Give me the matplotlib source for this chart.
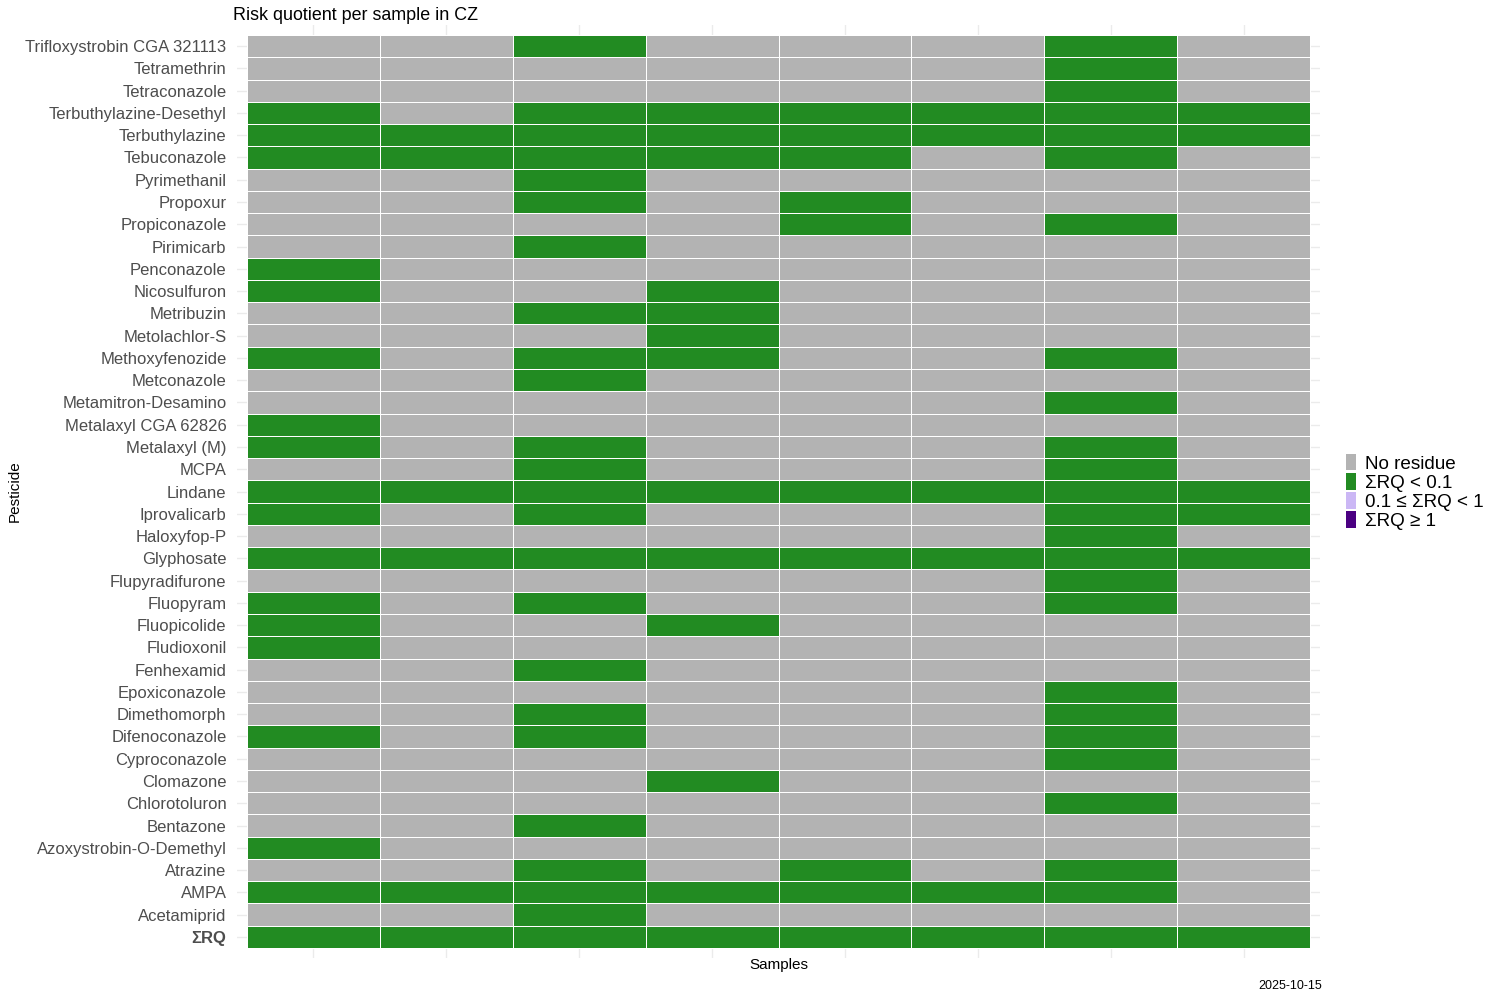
import numpy as np
import matplotlib
matplotlib.use("Agg")
import matplotlib.pyplot as plt
from matplotlib.colors import ListedColormap, BoundaryNorm
from matplotlib.patches import Patch

plt.rcParams['font.family'] = ['Liberation Sans', 'DejaVu Sans']

# rows listed top to bottom
pesticides = [
    "Trifloxystrobin CGA 321113", "Tetramethrin", "Tetraconazole",
    "Terbuthylazine-Desethyl", "Terbuthylazine", "Tebuconazole", "Pyrimethanil",
    "Propoxur", "Propiconazole", "Pirimicarb", "Penconazole", "Nicosulfuron",
    "Metribuzin", "Metolachlor-S", "Methoxyfenozide", "Metconazole",
    "Metamitron-Desamino", "Metalaxyl CGA 62826", "Metalaxyl (M)", "MCPA",
    "Lindane", "Iprovalicarb", "Haloxyfop-P", "Glyphosate", "Flupyradifurone",
    "Fluopyram", "Fluopicolide", "Fludioxonil", "Fenhexamid", "Epoxiconazole",
    "Dimethomorph", "Difenoconazole", "Cyproconazole", "Clomazone",
    "Chlorotoluron", "Bentazone", "Azoxystrobin-O-Demethyl", "Atrazine", "AMPA",
    "Acetamiprid", "ΣRQ",
]

# 0 = no residue, 1 = ΣRQ < 0.1 (one value per sample)
risk_class = [
    [0, 0, 1, 0, 0, 0, 1, 0],
    [0, 0, 0, 0, 0, 0, 1, 0],
    [0, 0, 0, 0, 0, 0, 1, 0],
    [1, 0, 1, 1, 1, 1, 1, 1],
    [1, 1, 1, 1, 1, 1, 1, 1],
    [1, 1, 1, 1, 1, 0, 1, 0],
    [0, 0, 1, 0, 0, 0, 0, 0],
    [0, 0, 1, 0, 1, 0, 0, 0],
    [0, 0, 0, 0, 1, 0, 1, 0],
    [0, 0, 1, 0, 0, 0, 0, 0],
    [1, 0, 0, 0, 0, 0, 0, 0],
    [1, 0, 0, 1, 0, 0, 0, 0],
    [0, 0, 1, 1, 0, 0, 0, 0],
    [0, 0, 0, 1, 0, 0, 0, 0],
    [1, 0, 1, 1, 0, 0, 1, 0],
    [0, 0, 1, 0, 0, 0, 0, 0],
    [0, 0, 0, 0, 0, 0, 1, 0],
    [1, 0, 0, 0, 0, 0, 0, 0],
    [1, 0, 1, 0, 0, 0, 1, 0],
    [0, 0, 1, 0, 0, 0, 1, 0],
    [1, 1, 1, 1, 1, 1, 1, 1],
    [1, 0, 1, 0, 0, 0, 1, 1],
    [0, 0, 0, 0, 0, 0, 1, 0],
    [1, 1, 1, 1, 1, 1, 1, 1],
    [0, 0, 0, 0, 0, 0, 1, 0],
    [1, 0, 1, 0, 0, 0, 1, 0],
    [1, 0, 0, 1, 0, 0, 0, 0],
    [1, 0, 0, 0, 0, 0, 0, 0],
    [0, 0, 1, 0, 0, 0, 0, 0],
    [0, 0, 0, 0, 0, 0, 1, 0],
    [0, 0, 1, 0, 0, 0, 1, 0],
    [1, 0, 1, 0, 0, 0, 1, 0],
    [0, 0, 0, 0, 0, 0, 1, 0],
    [0, 0, 0, 1, 0, 0, 0, 0],
    [0, 0, 0, 0, 0, 0, 1, 0],
    [0, 0, 1, 0, 0, 0, 0, 0],
    [1, 0, 0, 0, 0, 0, 0, 0],
    [0, 0, 1, 0, 1, 0, 1, 0],
    [1, 1, 1, 1, 1, 1, 1, 0],
    [0, 0, 1, 0, 0, 0, 0, 0],
    [1, 1, 1, 1, 1, 1, 1, 1],
]

class_labels = ["No residue", "ΣRQ < 0.1", "0.1 ≤ ΣRQ < 1", "ΣRQ ≥ 1"]
class_colors = ["#B3B3B3", "#228B22", "#CBB7F5", "#4B0082"]

n_rows = len(pesticides)
n_cols = len(risk_class[0])
# flip so the first row lands at the top
z = np.array(risk_class)[::-1]
row_names = pesticides[::-1]

cmap = ListedColormap(class_colors)
norm = BoundaryNorm(np.arange(-0.5, len(class_colors)), cmap.N)

fig = plt.figure(figsize=(15, 10), dpi=100)
ax = fig.add_axes([0.158, 0.042, 0.722, 0.933])

ax.pcolormesh(np.arange(n_cols + 1) - 0.5, np.arange(n_rows + 1) - 0.5, z,
              cmap=cmap, norm=norm, edgecolors="white", linewidth=0.7, zorder=2)

ax.set_xlim(-0.575, n_cols - 0.5 + 0.075)
ax.set_ylim(-0.95, n_rows - 0.5 + 0.45)
ax.set_xticks(np.arange(n_cols))
ax.set_xticklabels([])
ax.set_yticks(np.arange(n_rows))
ax.set_yticklabels(row_names, fontsize=12, color="#4D4D4D")
for lab in ax.get_yticklabels():
    if lab.get_text() == "ΣRQ":
        lab.set_fontweight("bold")
ax.tick_params(length=0, pad=7.5)
ax.grid(True, color="#EBEBEB", linewidth=1, zorder=0)
ax.set_axisbelow(True)
for s in ax.spines.values():
    s.set_visible(False)

ax.set_xlabel("Samples", fontsize=11, va="center")
ax.xaxis.set_label_coords(0.5, -0.0075)
ax.set_ylabel("Pesticide", fontsize=11, va="center")
ax.yaxis.set_label_coords(-0.205, 0.5)
fig.text(0.1555, 0.984, "Risk quotient per sample in CZ", fontsize=12.9, ha="left", va="center")
fig.text(0.8815, 0.014, "2025-10-15", fontsize=9, ha="right", va="center")

handles = [Patch(facecolor=c, edgecolor="none") for c in class_colors]
fig.legend(handles, class_labels, loc="center left", bbox_to_anchor=(0.8925, 0.508),
           frameon=False, fontsize=13.6, handlelength=0.53, handleheight=1.0,
           labelspacing=0.02, handletextpad=0.45, borderaxespad=0)

fig.savefig("out.png", dpi=100)
